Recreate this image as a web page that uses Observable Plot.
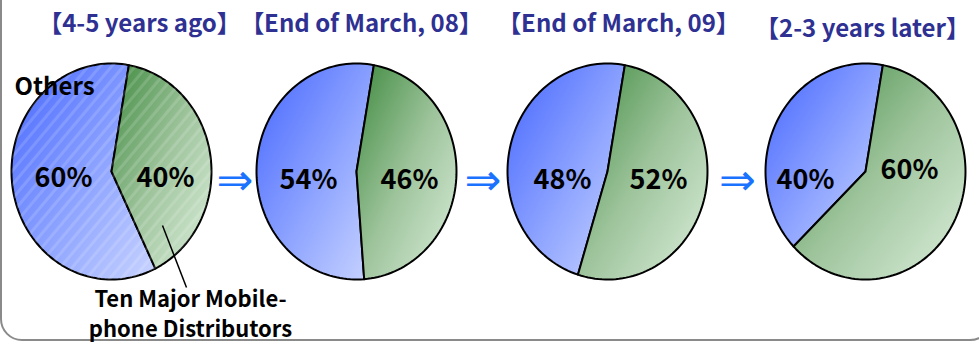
<!DOCTYPE html>
<html>
<head>
<meta charset="utf-8">
<script src="https://cdn.jsdelivr.net/npm/d3@7"></script>
<script src="https://cdn.jsdelivr.net/npm/@observablehq/plot@0.6"></script>
<style>
  html, body { margin: 0; padding: 0; background: #ffffff; }
  #wrap { position: relative; width: 979px; height: 344px; overflow: hidden; }
  #box { position: absolute; left: 0px; top: -40px; width: 992px; height: 381px;
         border: 2px solid #8a8a8a; border-radius: 22px; box-sizing: border-box; }
  #chart { position: absolute; left: 0; top: 0; }
</style>
</head>
<body>
<div id="wrap"><div id="box"></div><div id="chart"></div></div>
<script>
// ---- data ----
const periods = ["【4-5 years ago】", "【End of March, 08】", "【End of March, 09】", "【2-3 years later】"];
const othersShare = [60, 54, 48, 40];
const tenMajorShare = [40, 46, 52, 60];
const seriesNames = ["Others", "Ten Major Mobile-\nphone Distributors"];

// ---- layout ----
const W = 979, H = 344;
const pieCX = [111, 356, 607, 865];
const pieCY = 171;
const RX = 100, RY = 108;
const startDeg = 10;
const titleX = [139, 361, 618, 862];
const titleY = [24, 24, 24, 29];
const othersDX = [-48, -48, -45, -60], othersDY = [7, 9, 9, 9];
const tenDX = [54, 53, 51, 44], tenDY = [7, 9, 9, -1];

// slice outlines in pixel space, angles from the shares
function slice(i, a0, a1, series) {
  const cx = pieCX[i];
  const pts = [{key: series + i, pie: i, x: cx, y: pieCY}];
  const n = Math.max(4, Math.ceil((a1 - a0) / 2));
  for (let k = 0; k <= n; k++) {
    const a = (a0 + (a1 - a0) * k / n) * Math.PI / 180;
    pts.push({key: series + i, pie: i, x: cx + RX * Math.sin(a), y: pieCY - RY * Math.cos(a)});
  }
  pts.push({key: series + i, pie: i, x: cx, y: pieCY});
  return pts;
}
const greenPts = [], bluePts = [];
periods.forEach((p, i) => {
  const span = tenMajorShare[i] / 100 * 360;
  greenPts.push(...slice(i, startDeg, startDeg + span, "ten"));
  bluePts.push(...slice(i, startDeg + span, startDeg + 360, "oth"));
});

const labels = [];
periods.forEach((p, i) => {
  labels.push({x: pieCX[i] + othersDX[i], y: pieCY + othersDY[i], t: othersShare[i] + "%"});
  labels.push({x: pieCX[i] + tenDX[i], y: pieCY + tenDY[i], t: tenMajorShare[i] + "%"});
});
const titles = periods.map((t, i) => ({x: titleX[i], y: titleY[i], t}));
const arrows = [0, 1, 2].map(i => ({x: (pieCX[i] + RX + pieCX[i + 1] - RX) / 2 + 1, y: 180}));

const font = "'Noto Sans CJK JP', 'Noto Sans', sans-serif";

const svg = Plot.plot({
  width: W, height: H,
  margin: 0,
  style: {background: "transparent"},
  x: {domain: [0, W], range: [0, W], axis: null},
  y: {domain: [0, H], range: [0, H], axis: null},
  marks: [
    Plot.line(bluePts, {x: "x", y: "y", z: "key", fill: "url(#gBlue)", stroke: "black", strokeWidth: 2, strokeLinejoin: "round"}),
    Plot.line(greenPts, {x: "x", y: "y", z: "key", fill: "url(#gGreen)", stroke: "black", strokeWidth: 2, strokeLinejoin: "round"}),
    Plot.line(bluePts.filter(d => d.pie === 0), {x: "x", y: "y", z: "key", fill: "url(#hatch)", stroke: "none"}),
    Plot.line(greenPts.filter(d => d.pie === 0), {x: "x", y: "y", z: "key", fill: "url(#hatch)", stroke: "none"}),
    Plot.text(titles, {x: "x", y: "y", text: "t", fill: "#2e3192", fontSize: 24, fontWeight: "bold", fontFamily: font}),
    Plot.text(labels, {x: "x", y: "y", text: "t", fill: "black", fontSize: 27, fontWeight: "bold", fontFamily: font, ariaLabel: "pct"}),
    Plot.text(arrows, {x: "x", y: "y", text: () => "⇒", fill: "#1a72ff", fontSize: 44, fontFamily: "DejaVu Sans"}),
    Plot.text([{x: 14, y: 87}], {x: "x", y: "y", text: () => seriesNames[0], textAnchor: "start", fill: "black", fontSize: 24, fontWeight: "bold", fontFamily: font}),
    Plot.link([{x1: 162, y1: 225, x2: 186, y2: 287}], {x1: "x1", y1: "y1", x2: "x2", y2: "y2", stroke: "black", strokeWidth: 1.5}),
    Plot.text([{x: 190, y: 312}], {x: "x", y: "y", text: () => seriesNames[1], fill: "black", fontSize: 22, lineHeight: 1.35, fontWeight: "bold", fontFamily: font})
  ]
});
svg.insertAdjacentHTML("afterbegin", `
<defs>
  <linearGradient id="gBlue" x1="0" y1="0" x2="1" y2="1">
    <stop offset="0" stop-color="#4566ff"/>
    <stop offset="0.55" stop-color="#8ea4ff"/>
    <stop offset="1" stop-color="#c9d4ff"/>
  </linearGradient>
  <linearGradient id="gGreen" x1="0" y1="0" x2="1" y2="1">
    <stop offset="0" stop-color="#3f8a3f"/>
    <stop offset="0.5" stop-color="#9ec49c"/>
    <stop offset="1" stop-color="#dcefdc"/>
  </linearGradient>
  <pattern id="hatch" width="9" height="9" patternUnits="userSpaceOnUse" patternTransform="rotate(40)">
    <rect width="3" height="9" fill="white" fill-opacity="0.14"/>
  </pattern>
  <filter id="shadow" x="-20%" y="-20%" width="140%" height="140%">
    <feDropShadow dx="2" dy="2" stdDeviation="0" flood-color="#ffffff" flood-opacity="1"/>
  </filter>
</defs>`);
const pctGroup = svg.querySelector('g[aria-label="pct"]');
if (pctGroup) pctGroup.setAttribute("filter", "url(#shadow)");
document.getElementById("chart").appendChild(svg);
</script>
</body>
</html>
